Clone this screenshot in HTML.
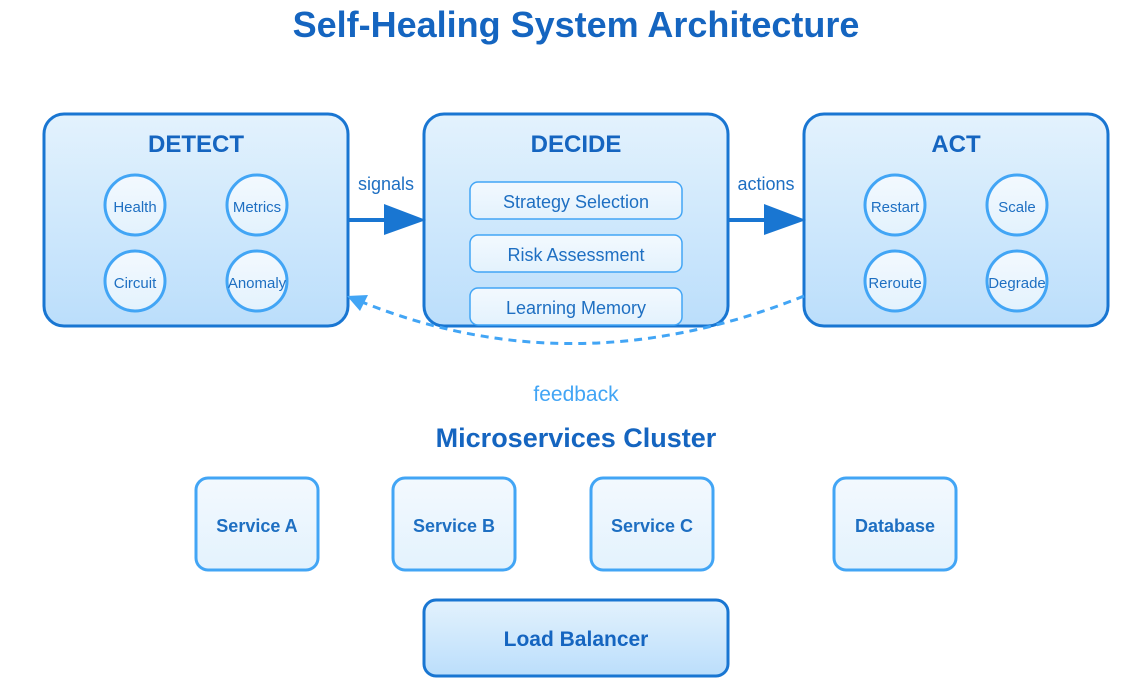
<!DOCTYPE html>
<html><head><meta charset="utf-8"><style>html,body{margin:0;padding:0;background:#fff}svg{display:block}</style></head>
<body>
<svg width="1126" height="691" viewBox="0 0 1126 691" xmlns="http://www.w3.org/2000/svg" font-family="Liberation Sans, Arial, sans-serif">
<defs>
<linearGradient id="g1" x1="0" y1="0" x2="0" y2="1"><stop offset="0" stop-color="#e3f2fd"/><stop offset="1" stop-color="#bbdefb"/></linearGradient>
<linearGradient id="g2" x1="0" y1="0" x2="0" y2="1"><stop offset="0" stop-color="#f3f9fe"/><stop offset="1" stop-color="#e3f2fd"/></linearGradient>
</defs>
<text x="576" y="37" text-anchor="middle" font-size="36" font-weight="bold" fill="#1565c0">Self-Healing System Architecture</text>

<g stroke="#1976d2" stroke-width="3" fill="url(#g1)">
<rect x="44" y="114" width="304" height="212" rx="20"/>
<rect x="424" y="114" width="304" height="212" rx="20"/>
<rect x="804" y="114" width="304" height="212" rx="20"/>
</g>
<g font-size="24" font-weight="bold" fill="#1565c0" text-anchor="middle">
<text x="196" y="152">DETECT</text><text x="576" y="152">DECIDE</text><text x="956" y="152">ACT</text>
</g>
<g stroke="#42a5f5" stroke-width="3" fill="url(#g2)">
<circle cx="135" cy="205" r="30"/><circle cx="257" cy="205" r="30"/><circle cx="135" cy="281" r="30"/><circle cx="257" cy="281" r="30"/>
<circle cx="895" cy="205" r="30"/><circle cx="1017" cy="205" r="30"/><circle cx="895" cy="281" r="30"/><circle cx="1017" cy="281" r="30"/>
</g>
<g stroke="#42a5f5" stroke-width="1.5" fill="url(#g2)">
<rect x="470" y="182" width="212" height="37" rx="8"/>
<rect x="470" y="235" width="212" height="37" rx="8"/>
<rect x="470" y="288" width="212" height="37" rx="8"/>
</g>
<g font-size="15" fill="#1e6fc2" text-anchor="middle">
<text x="135" y="212">Health</text><text x="257" y="212">Metrics</text><text x="135" y="288">Circuit</text><text x="257" y="288">Anomaly</text>
<text x="895" y="212">Restart</text><text x="1017" y="212">Scale</text><text x="895" y="288">Reroute</text><text x="1017" y="288">Degrade</text>
</g>
<g font-size="18" fill="#1e6fc2" text-anchor="middle">
<text x="576" y="208">Strategy Selection</text><text x="576" y="261">Risk Assessment</text><text x="576" y="314">Learning Memory</text>
<text x="386" y="190">signals</text><text x="766" y="190">actions</text>
</g>
<g fill="#1976d2" stroke="#1976d2" stroke-width="4">
<line x1="348" y1="220" x2="390" y2="220"/><polygon points="384,204 426,220 384,235" stroke="none"/>
<line x1="728" y1="220" x2="770" y2="220"/><polygon points="764,204 806,220 764,235" stroke="none"/>
</g>
<path d="M804 296 Q576 388 362 302" fill="none" stroke="#42a5f5" stroke-width="3" stroke-dasharray="8,6"/>
<polygon points="347,296 368,295 360,311" fill="#42a5f5"/>
<text x="576" y="401" text-anchor="middle" font-size="21" fill="#42a5f5">feedback</text>
<text x="576" y="447" text-anchor="middle" font-size="27" font-weight="bold" fill="#1565c0">Microservices Cluster</text>
<g stroke="#42a5f5" stroke-width="3" fill="url(#g2)">
<rect x="196" y="478" width="122" height="92" rx="12"/>
<rect x="393" y="478" width="122" height="92" rx="12"/>
<rect x="591" y="478" width="122" height="92" rx="12"/>
<rect x="834" y="478" width="122" height="92" rx="12"/>
</g>
<rect x="424" y="600" width="304" height="76" rx="12" stroke="#1976d2" stroke-width="3" fill="url(#g1)"/>
<g font-size="18" font-weight="bold" fill="#1e6fc2" text-anchor="middle">
<text x="257" y="532">Service A</text><text x="454" y="532">Service B</text><text x="652" y="532">Service C</text><text x="895" y="532">Database</text>
</g>
<text x="576" y="646" text-anchor="middle" font-size="21" font-weight="bold" fill="#1565c0">Load Balancer</text>
</svg>
</body></html>
